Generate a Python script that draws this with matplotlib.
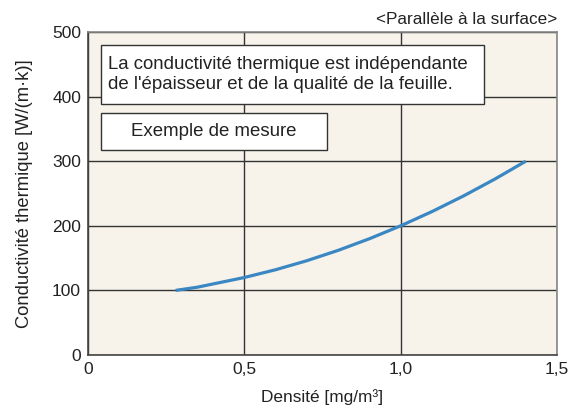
import matplotlib
matplotlib.use("Agg")
import matplotlib.pyplot as plt
from matplotlib.patches import Rectangle

# Courbe
densite = [0.28, 0.35, 0.40, 0.45, 0.50, 0.55, 0.60, 0.65, 0.70, 0.75, 0.80, 0.85,
           0.90, 0.95, 1.00, 1.05, 1.10, 1.15, 1.20, 1.25, 1.30, 1.35, 1.40]
conductivite = [100, 105, 110, 115, 120, 126, 132, 139, 146, 154, 162, 171,
                180, 190, 200, 211, 222, 234, 246, 259, 272, 286, 300]

x_ticks = [0, 0.5, 1.0, 1.5]
x_tick_labels = ["0", "0,5", "1,0", "1,5"]
y_ticks = [0, 100, 200, 300, 400, 500]

plt.rcParams["font.family"] = ["Liberation Sans", "DejaVu Sans"]

fig = plt.figure(figsize=(5.71, 4.12), dpi=100)
ax = fig.add_axes([0.1541, 0.1383, 0.8214, 0.784])
ax.set_facecolor("#F7F3EA")

ax.plot(densite, conductivite, color="#3A87C3", lw=2.3, solid_capstyle="butt", zorder=3)

ax.set_xlim(0, 1.5)
ax.set_ylim(0, 500)
ax.set_xticks(x_ticks)
ax.set_xticklabels(x_tick_labels)
ax.set_yticks(y_ticks)
ax.tick_params(length=0, labelsize=12.5, colors="#222222", pad=5)
ax.grid(True, color="#333333", lw=1.0)
ax.set_axisbelow(True)

for side in ["top", "right"]:
    ax.spines[side].set_color("#888888")
for side in ["left", "bottom"]:
    ax.spines[side].set_color("#444444")
for sp in ax.spines.values():
    sp.set_linewidth(1.2)

ax.set_xlabel("Densité [mg/m³]", fontsize=12.4, labelpad=9, color="#222222")
ax.set_ylabel("Conductivité thermique [W/(m·k)]", fontsize=13.2, labelpad=14, color="#222222")

# cadres de texte
ax.add_patch(Rectangle((0.0415, 388.5), 1.2265, 91.5, facecolor="white",
                       edgecolor="#333333", lw=1.0, zorder=4))
ax.text(0.063, 434, "La conductivité thermique est indépendante\nde l'épaisseur et de la qualité de la feuille.",
        fontsize=13.4, va="center", ha="left", linespacing=1.2, color="#222222", zorder=5)

ax.add_patch(Rectangle((0.0415, 317), 0.7225, 57.6, facecolor="white",
                       edgecolor="#333333", lw=1.0, zorder=4))
ax.text(0.403, 345.5, "Exemple de mesure", fontsize=13.4,
        va="center", ha="center", color="#222222", zorder=5)

fig.text(0.9755, 0.953, "<Parallèle à la surface>", fontsize=12.3,
         ha="right", va="center", color="#222222")

fig.savefig("out.png", dpi=100)
